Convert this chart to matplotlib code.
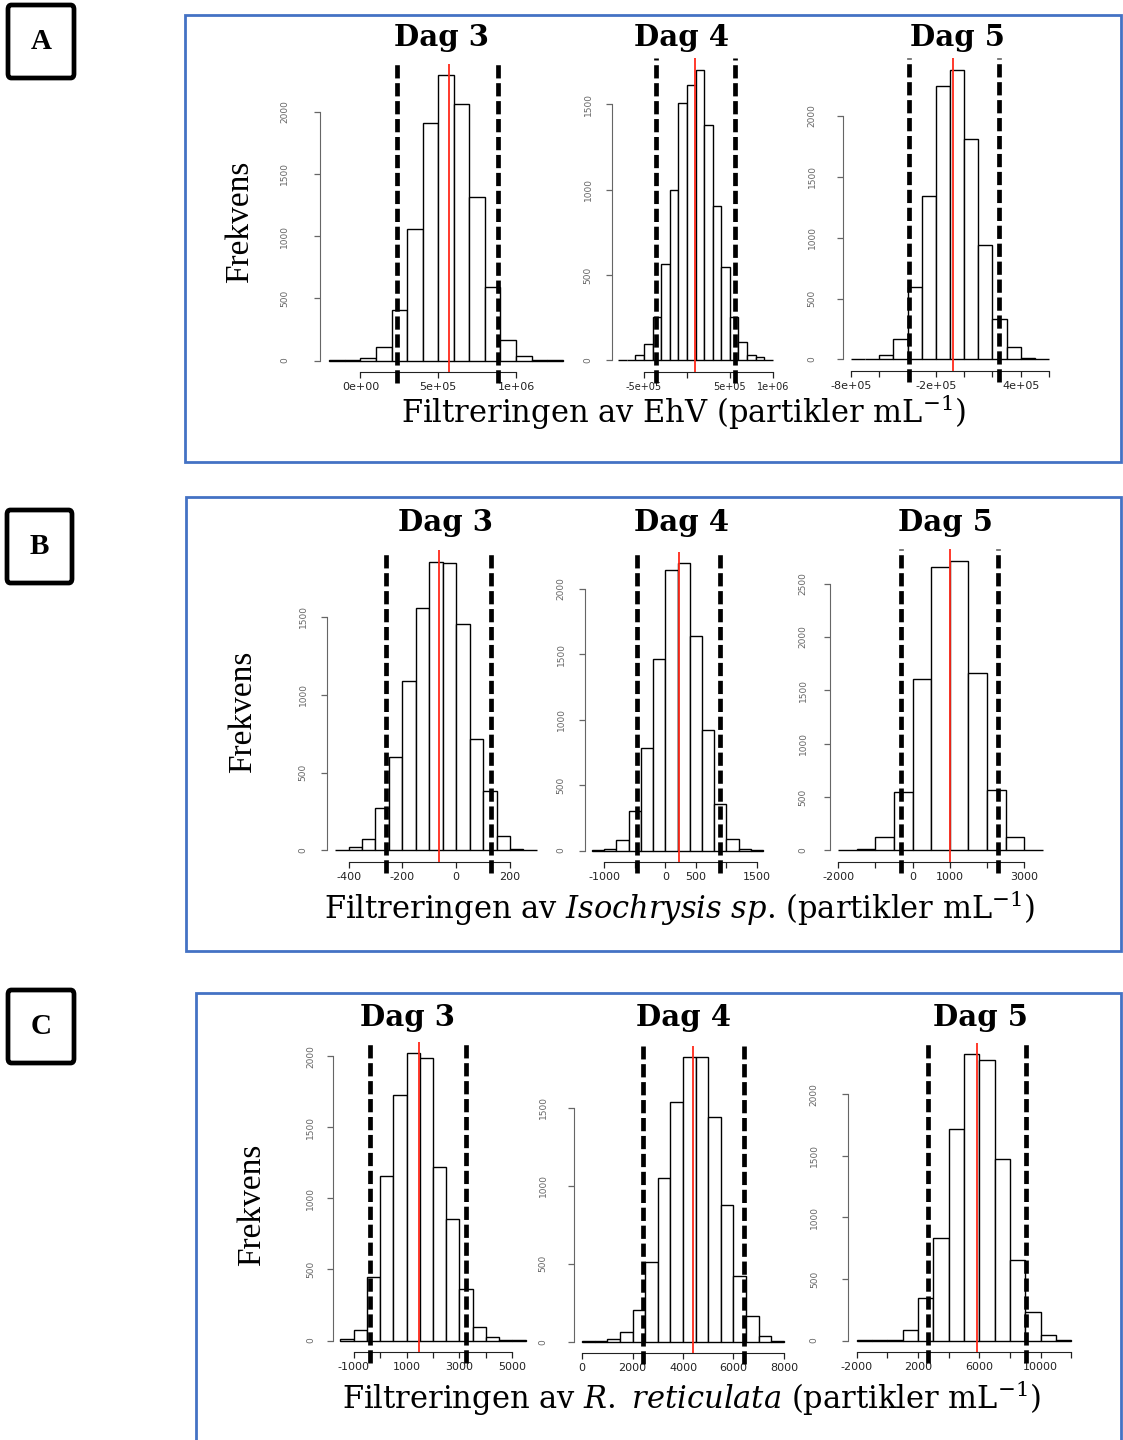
import numpy as np
import matplotlib
matplotlib.use("Agg")
import matplotlib.pyplot as plt
from matplotlib.patches import Rectangle, FancyBboxPatch

W, H = 1123, 1440

# ---- data (bin breaks, counts, dashed limits, red mean) ----
days = ["Dag 3", "Dag 4", "Dag 5"]
panel_letters = ["A", "B", "C"]
xlabels = [
    r"Filtreringen av EhV (partikler mL$^{-1}$)",
    r"Filtreringen av $\mathit{Isochrysis\ sp}$. (partikler mL$^{-1}$)",
    r"Filtreringen av $\mathit{R.\ reticulata}$ (partikler mL$^{-1}$)",
]
ylabel = "Frekvens"

# A: EhV
a3_breaks = [-2e5, -1e5, 0, 1e5, 2e5, 3e5, 4e5, 5e5, 6e5, 7e5, 8e5, 9e5, 1e6, 1.1e6, 1.2e6, 1.3e6]
a3_counts = [1, 3, 20, 110, 406, 1061, 1908, 2292, 2062, 1313, 593, 168, 38, 8, 2]
a3_lines = (238000, 887000, 567000)
a3_xticks = [0, 5e5, 1e6]
a3_xticklabels = ["0e+00", "5e+05", "1e+06"]
a3_yticks = [0, 500, 1000, 1500, 2000]

a4_breaks = [-8e5, -7e5, -6e5, -5e5, -4e5, -3e5, -2e5, -1e5, 0, 1e5, 2e5, 3e5, 4e5, 5e5, 6e5, 7e5, 8e5, 9e5, 1e6]
a4_counts = [2, 5, 31, 94, 256, 566, 995, 1504, 1612, 1702, 1376, 906, 547, 252, 110, 29, 18, 2]
a4_lines = (-354000, 558000, 96000)
a4_xticks = [-5e5, 0, 5e5, 1e6]
a4_xticklabels = ["-5e+05", "", "5e+05", "1e+06"]
a4_yticks = [0, 500, 1000, 1500]

a5_breaks = [-8e5, -7e5, -6e5, -5e5, -4e5, -3e5, -2e5, -1e5, 0, 1e5, 2e5, 3e5, 4e5, 5e5, 6e5]
a5_counts = [1, 4, 33, 171, 597, 1345, 2249, 2381, 1812, 942, 334, 102, 10, 2]
a5_lines = (-393000, 247000, -80000)
a5_xticks = [-8e5, -6e5, -4e5, -2e5, 0, 2e5, 4e5, 6e5]
a5_xticklabels = ["-8e+05", "", "", "-2e+05", "", "", "4e+05", ""]
a5_yticks = [0, 500, 1000, 1500, 2000]

# B: Isochrysis sp.
b3_breaks = [-450, -400, -350, -300, -250, -200, -150, -100, -50, 0, 50, 100, 150, 200, 250, 300]
b3_counts = [3, 19, 76, 270, 598, 1090, 1558, 1856, 1845, 1457, 719, 382, 93, 10, 2]
b3_lines = (-262, 130, -65)
b3_xticks = [-400, -200, 0, 200]
b3_xticklabels = ["-400", "-200", "0", "200"]
b3_yticks = [0, 500, 1000, 1500]

b4_breaks = [-1200, -1000, -800, -600, -400, -200, 0, 200, 400, 600, 800, 1000, 1200, 1400, 1600]
b4_counts = [3, 13, 84, 300, 782, 1460, 2140, 2191, 1638, 922, 357, 89, 15, 2]
b4_lines = (-462, 897, 217)
b4_xticks = [-1000, -500, 0, 500, 1000, 1500]
b4_xticklabels = ["-1000", "", "0", "500", "", "1500"]
b4_yticks = [0, 500, 1000, 1500, 2000]

b5_breaks = [-2000, -1500, -1000, -500, 0, 500, 1000, 1500, 2000, 2500, 3000, 3500]
b5_counts = [2, 9, 125, 548, 1607, 2653, 2716, 1660, 564, 125, 2]
b5_lines = (-312, 2304, 1009)
b5_xticks = [-2000, -1000, 0, 1000, 2000, 3000]
b5_xticklabels = ["-2000", "", "0", "1000", "", "3000"]
b5_yticks = [0, 500, 1000, 1500, 2000, 2500]

# C: R. reticulata
c3_breaks = [-1500, -1000, -500, 0, 500, 1000, 1500, 2000, 2500, 3000, 3500, 4000, 4500, 5000, 5500]
c3_counts = [12, 71, 447, 1160, 1729, 2019, 1988, 1224, 854, 360, 94, 24, 6, 1]
c3_lines = (-375, 3250, 1462)
c3_xticks = [-1000, 0, 1000, 2000, 3000, 4000, 5000]
c3_xticklabels = ["-1000", "", "1000", "", "3000", "", "5000"]
c3_yticks = [0, 500, 1000, 1500, 2000]

c4_breaks = [0, 500, 1000, 1500, 2000, 2500, 3000, 3500, 4000, 4500, 5000, 5500, 6000, 6500, 7000, 7500, 8000]
c4_counts = [1, 3, 15, 60, 204, 510, 1050, 1534, 1823, 1823, 1442, 874, 420, 163, 34, 5]
c4_lines = (2434, 6421, 4408)
c4_xticks = [0, 2000, 4000, 6000, 8000]
c4_xticklabels = ["0", "2000", "4000", "6000", "8000"]
c4_yticks = [0, 500, 1000, 1500]

c5_breaks = [-2000, -1000, 0, 1000, 2000, 3000, 4000, 5000, 6000, 7000, 8000, 9000, 10000, 11000, 12000]
c5_counts = [1, 2, 8, 82, 348, 832, 1720, 2323, 2277, 1476, 655, 231, 49, 8]
c5_lines = (2641, 9048, 5844)
c5_xticks = [-2000, 0, 2000, 4000, 6000, 8000, 10000, 12000]
c5_xticklabels = ["-2000", "", "2000", "", "6000", "", "10000", ""]
c5_yticks = [0, 500, 1000, 1500, 2000]

hists = [
    (a3_breaks, a3_counts, a3_lines, a3_xticks, a3_xticklabels, a3_yticks),
    (a4_breaks, a4_counts, a4_lines, a4_xticks, a4_xticklabels, a4_yticks),
    (a5_breaks, a5_counts, a5_lines, a5_xticks, a5_xticklabels, a5_yticks),
    (b3_breaks, b3_counts, b3_lines, b3_xticks, b3_xticklabels, b3_yticks),
    (b4_breaks, b4_counts, b4_lines, b4_xticks, b4_xticklabels, b4_yticks),
    (b5_breaks, b5_counts, b5_lines, b5_xticks, b5_xticklabels, b5_yticks),
    (c3_breaks, c3_counts, c3_lines, c3_xticks, c3_xticklabels, c3_yticks),
    (c4_breaks, c4_counts, c4_lines, c4_xticks, c4_xticklabels, c4_yticks),
    (c5_breaks, c5_counts, c5_lines, c5_xticks, c5_xticklabels, c5_yticks),
]

# ---- layout in pixels: (left, right, top, bottom) of each plot region, y-label pad ----
regions = [
    (320, 572, 64, 372), (612, 779, 58, 372), (843, 1057, 58, 371),
    (327, 545, 550, 862), (585, 770, 552, 862), (830, 1051, 549, 862),
    (333, 533, 1042, 1352), (574, 792, 1046, 1353), (848, 1080, 1043, 1352),
]
ylab_pads = [18, 10, 15, 10, 10, 12, 9, 15, 17]
xlab_sizes = [8, 7, 8, 8, 8, 8, 8, 8, 8]

title_pos = [[(442, 38), (682, 38), (958, 37)],
             [(445, 523), (682, 523), (945, 522)],
             [(407, 1018), (684, 1018), (980, 1017)]]
xlabel_pos = [(684, 412), (680, 908), (692, 1398)]
ylabel_pos = [(240, 222), (243, 712), (252, 1205)]
panel_boxes = [(185, 1121, 15, 462), (186, 1121, 497, 951), (196, 1121, 993, 1446)]
letter_boxes = [(8, 74, 5, 78), (7, 72, 510, 583), (8, 74, 990, 1063)]

plt.rcParams['mathtext.fontset'] = 'dejavuserif'

fig = plt.figure(figsize=(W / 100, H / 100), dpi=100)


def fx(x):
    return x / W


def fy(y):
    return 1 - y / H


def draw_hist(ax, breaks, counts, lines, xticks, xticklabels, yticks, ypad, xsize):
    breaks = np.asarray(breaks, dtype=float)
    widths = np.diff(breaks)
    ax.bar(breaks[:-1], counts, width=widths, align='edge', color='white',
           edgecolor='black', linewidth=1.0, zorder=2)
    # R style 4% padding
    xr = breaks[-1] - breaks[0]
    ymax = max(counts)
    ax.set_xlim(breaks[0] - 0.04 * xr, breaks[-1] + 0.04 * xr)
    ax.set_ylim(-0.04 * ymax, 1.04 * ymax)
    lo, hi, mean = lines
    for v in (lo, hi):
        ax.axvline(v, ymin=-0.035, ymax=1, clip_on=False, color='black', lw=3.4,
                   linestyle=(0, (2.8, 1.0)), zorder=4)
    ax.axvline(mean, color='#ff2a1a', lw=1.3, zorder=5)
    ax.set_facecolor('none')
    for s in ('top', 'right'):
        ax.spines[s].set_visible(False)
    ax.spines['left'].set_bounds(yticks[0], yticks[-1])
    ax.spines['left'].set_color('#666666')
    ax.spines['bottom'].set_bounds(xticks[0], xticks[-1])
    ax.spines['bottom'].set_color('#222222')
    ax.set_xticks(xticks)
    ax.set_xticklabels(xticklabels)
    ax.set_yticks(yticks)
    ax.set_yticklabels([str(t) for t in yticks])
    ax.tick_params(axis='y', direction='out', length=4, width=0.9, colors='#666666',
                   labelsize=6.5, labelrotation=90, pad=ypad)
    ax.tick_params(axis='x', direction='out', length=4, width=0.9, colors='#222222',
                   labelsize=xsize, pad=3)
    for lab in ax.get_yticklabels():
        lab.set_va('center')


for i, (h, r) in enumerate(zip(hists, regions)):
    x0, x1, y0, y1 = r
    ax = fig.add_axes([fx(x0), fy(y1), (x1 - x0) / W, (y1 - y0) / H])
    draw_hist(ax, *h, ylab_pads[i], xlab_sizes[i])

for p in range(3):
    # blue panel frame
    bx0, bx1, by0, by1 = panel_boxes[p]
    fig.add_artist(Rectangle((fx(bx0), fy(by1)), (bx1 - bx0) / W, (by1 - by0) / H,
                             transform=fig.transFigure, fill=False,
                             edgecolor='#4472c4', lw=2.0))
    # letter box
    lx0, lx1, ly0, ly1 = letter_boxes[p]
    fig.add_artist(FancyBboxPatch((fx(lx0), fy(ly1)), (lx1 - lx0) / W, (ly1 - ly0) / H,
                                  boxstyle="round,pad=0,rounding_size=0.003",
                                  transform=fig.transFigure, fill=False,
                                  edgecolor='black', lw=3.4))
    fig.text(fx((lx0 + lx1) / 2), fy((ly0 + ly1) / 2), panel_letters[p],
             ha='center', va='center', fontsize=21, fontweight='bold',
             family='Liberation Serif')
    for d in range(3):
        tx, ty = title_pos[p][d]
        fig.text(fx(tx), fy(ty), days[d], ha='center', va='center', fontsize=21,
                 fontweight='bold', family='DejaVu Serif')
    xx, xy = xlabel_pos[p]
    fig.text(fx(xx), fy(xy), xlabels[p], ha='center', va='center', fontsize=22,
             family='DejaVu Serif')
    yx, yy = ylabel_pos[p]
    fig.text(fx(yx), fy(yy), ylabel, ha='center', va='center', rotation=90,
             fontsize=24, family='Liberation Serif')

fig.savefig('out.png', dpi=100, facecolor='white')
